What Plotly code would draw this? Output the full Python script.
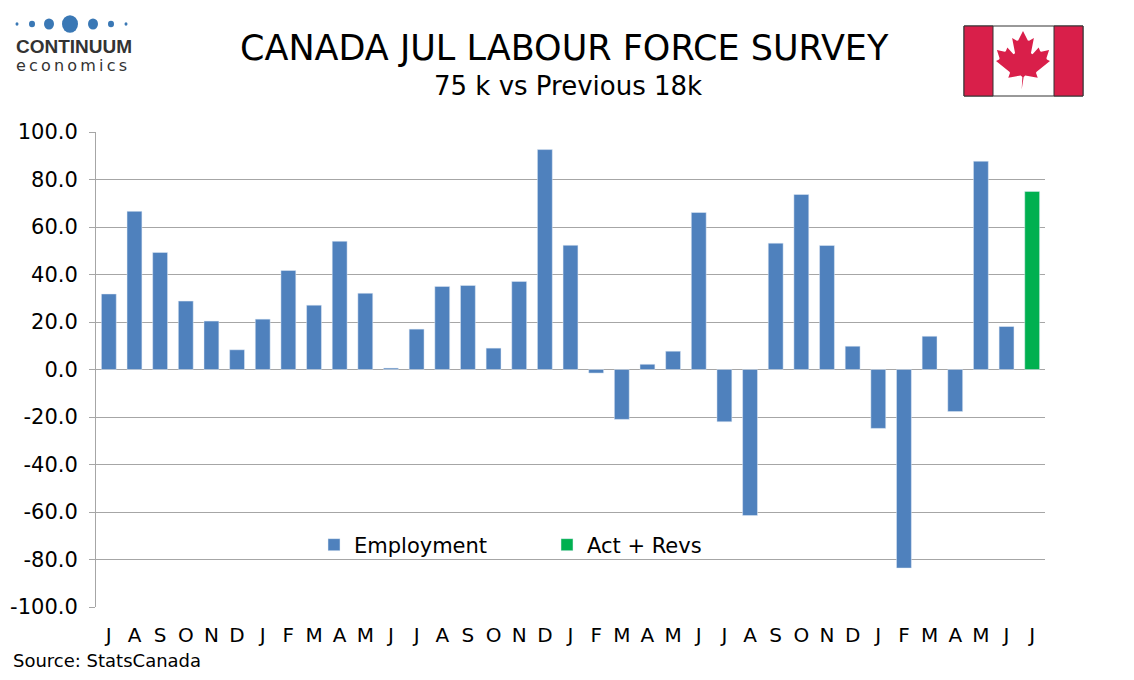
import plotly.graph_objects as go

# chart data
months = ["J", "A", "S", "O", "N", "D", "J", "F", "M", "A", "M", "J",
          "J", "A", "S", "O", "N", "D", "J", "F", "M", "A", "M", "J",
          "J", "A", "S", "O", "N", "D", "J", "F", "M", "A", "M", "J", "J"]
employment = [31.8, 66.6, 49.3, 28.8, 20.4, 8.3, 21.2, 41.7, 27.1, 54.0, 32.1, 0.6,
              17.0, 35.0, 35.4, 9.0, 37.1, 92.6, 52.3, -1.5, -21.0, 2.2, 7.7, 66.1,
              -22.0, -61.5, 53.2, 73.7, 52.2, 9.8, -24.8, -83.6, 14.0, -17.7, 87.7, 18.1, None]
act_revs = [None] * 36 + [75.0]
y_ticks = [-100, -80, -60, -40, -20, 0, 20, 40, 60, 80, 100]

# page has an 8px body margin, so the figure is drawn 8px in from the corner
OFF = 8
W, H = 1134 - 2 * OFF, 680 - 2 * OFF
L, T = 96 - OFF, 132 - OFF
R, B = W - (1045 - OFF), H - (607 - OFF)
FONT = "DejaVu Sans"
BLUE = "#4f81bd"
GREEN = "#00b050"
GRID = "#a6a6a6"
RED = "#d91f4a"

x = list(range(len(months)))
ymin, ymax = y_ticks[0], y_ticks[-1]


def px(xp, yp):
    # screenshot pixels -> paper coordinates
    return (xp - OFF - L) / (W - L - R), (H - B - (yp - OFF)) / (H - T - B)


fig = go.Figure()
fig.add_trace(go.Bar(x=x, y=employment, name="Employment", marker_color=BLUE,
                     width=0.58, xaxis="x2"))
fig.add_trace(go.Bar(x=x, y=act_revs, name="Act + Revs", marker_color=GREEN,
                     width=0.58, xaxis="x2"))

shapes = []
annotations = []

# flag
fx0, fy0 = px(964, 26)
fx1, fy1 = px(1083, 96)
fa, _ = px(993, 0)
fb, _ = px(1054, 0)
shapes.append(dict(type="rect", xref="paper", yref="paper", x0=fx0, x1=fx1, y0=fy1, y1=fy0,
                   fillcolor="white", line=dict(color="#333333", width=1)))
shapes.append(dict(type="rect", xref="paper", yref="paper", x0=fx0, x1=fa, y0=fy1, y1=fy0,
                   fillcolor=RED, line=dict(color="#333333", width=1)))
shapes.append(dict(type="rect", xref="paper", yref="paper", x0=fb, x1=fx1, y0=fy1, y1=fy0,
                   fillcolor=RED, line=dict(color="#333333", width=1)))

leaf_steps = [(45, -863), (-111, -98), (-859, 151), (116, -320), (-20, -73), (-941, -762),
              (212, -99), (34, -79), (-186, -572), (542, 115), (73, -38), (105, -247),
              (423, 454), (111, -57), (-204, -1052), (327, 189), (91, -27), (332, -652),
              (332, 652), (91, 27), (327, -189), (-204, 1052), (111, 57), (423, -454),
              (105, 247), (73, 38), (542, -115), (-186, 572), (34, 79), (212, 99),
              (-941, 762), (-20, 73), (116, 320), (-859, -151), (-111, 98)]
cx, cy, sc = 1023, 60, 0.0145
pts = [(-90, 2030)]
for dx, dy in leaf_steps:
    pts.append((pts[-1][0] + dx, pts[-1][1] + dy))
path = ""
for i, (a, b) in enumerate(pts):
    u, v = px(cx + a * sc, cy + b * sc)
    path += ("M" if i == 0 else "L") + f"{u:.5f},{v:.5f} "
path += "Z"
shapes.append(dict(type="path", xref="paper", yref="paper", path=path,
                   fillcolor=RED, line=dict(width=0)))

# logo dots
for dx_, r in [(17, 1.5), (32, 3), (49, 5), (70, 8), (93, 5), (111, 3), (126, 1.5)]:
    u0, v0 = px(dx_ - r, 24 - r * 1.1)
    u1, v1 = px(dx_ + r, 24 + r * 1.1)
    shapes.append(dict(type="circle", xref="paper", yref="paper", x0=u0, x1=u1, y0=v1, y1=v0,
                       fillcolor="#3a78b5", line=dict(width=0)))

u, v = px(15, 46)
annotations.append(dict(text="<b>CONTINUUM</b>", xref="paper", yref="paper", x=u, y=v,
                        xanchor="left", yanchor="middle", showarrow=False, borderpad=0,
                        font=dict(family="Liberation Sans", size=19, color="#333333")))
u, v = px(15, 65)
annotations.append(dict(text="\u2009".join("economics"), xref="paper", yref="paper", x=u, y=v,
                        xanchor="left", yanchor="middle", showarrow=False, borderpad=0,
                        font=dict(family=FONT, size=16, color="#333333")))

# titles
u, v = px(564, 48)
annotations.append(dict(text="CANADA JUL LABOUR FORCE SURVEY", xref="paper", yref="paper",
                        x=u, y=v, xanchor="center", yanchor="middle", showarrow=False,
                        font=dict(family=FONT, size=35, color="black")))
u, v = px(568, 86)
annotations.append(dict(text="75 k vs Previous 18k", xref="paper", yref="paper",
                        x=u, y=v, xanchor="center", yanchor="middle", showarrow=False,
                        font=dict(family=FONT, size=26, color="black")))
u, v = px(12, 660)
annotations.append(dict(text="Source: StatsCanada", xref="paper", yref="paper",
                        x=u, y=v, xanchor="left", yanchor="middle", showarrow=False,
                        borderpad=0, font=dict(family=FONT, size=18, color="black")))

fig.update_layout(
    width=W, height=H,
    margin=dict(l=L, r=R, t=T, b=B, autoexpand=False),
    paper_bgcolor="white", plot_bgcolor="white",
    font=dict(family=FONT, size=20, color="black"),
    barmode="overlay",
    showlegend=True,
    legend=dict(orientation="h", x=px(314, 0)[0], y=px(0, 545)[1], xanchor="left",
                yanchor="middle", entrywidth=188, bgcolor="rgba(0,0,0,0)",
                font=dict(family=FONT, size=21)),
    xaxis=dict(range=[-0.5, len(months) - 0.5], anchor="free",
               position=(0 - ymin) / (ymax - ymin), automargin=False,
               tickmode="array", tickvals=[i - 0.5 for i in range(len(months) + 1)],
               showticklabels=False, ticks="outside", ticklen=7, tickcolor=GRID,
               showline=True, linecolor=GRID, showgrid=False, zeroline=False),
    xaxis2=dict(overlaying="x", matches="x", anchor="y", side="bottom", automargin=False,
                tickmode="array", tickvals=x, ticktext=months, ticks="",
                showline=False, showgrid=False, zeroline=False,
                ticklabelstandoff=14, tickfont=dict(size=20)),
    yaxis=dict(range=[ymin, ymax], tickmode="array", tickvals=y_ticks, automargin=False,
               ticktext=[f"{t:.1f}" for t in y_ticks], showgrid=True,
               gridcolor=GRID, showline=True, linecolor=GRID, ticks="outside",
               ticklen=6, tickcolor=GRID, zeroline=False, ticklabelstandoff=7,
               tickfont=dict(size=21)),
    shapes=shapes,
    annotations=annotations,
)

fig.write_html("out.html")
